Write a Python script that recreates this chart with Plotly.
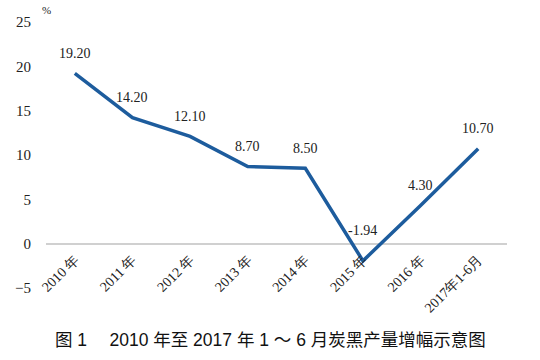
import plotly.graph_objects as go

categories = ["2010年", "2011年", "2012年", "2013年", "2014年", "2015年", "2016年", "2017年1-6月"]
tick_labels = ["2010 年", "2011 年", "2012 年", "2013 年", "2014 年", "2015 年", "2016 年", "2017年1-6月"]
values = [19.20, 14.20, 12.10, 8.70, 8.50, -1.94, 4.30, 10.70]
value_labels = ["19.20", "14.20", "12.10", "8.70", "8.50", "-1.94", "4.30", "10.70"]
y_ticks = [-5, 0, 5, 10, 15, 20, 25]
y_min, y_max = -5, 25

serif = "Liberation Serif"

fig = go.Figure()
fig.add_trace(go.Scatter(
    x=categories, y=values, mode="lines",
    line=dict(color="#1d5c9d", width=3.5),
    hoverinfo="skip", showlegend=False,
))

for c, v, t in zip(categories, values, value_labels):
    fig.add_annotation(x=c, y=v, text=t, showarrow=False,
                       yshift=30 if v < 0 else 20,
                       font=dict(family=serif, size=14, color="#222"))

fig.add_annotation(xref="paper", yref="paper", x=0.0, y=1.0, text="%",
                   showarrow=False, xanchor="center", yanchor="bottom", yshift=4,
                   font=dict(family=serif, size=11, color="#222"))

fig.add_annotation(xref="paper", yref="paper", x=0.486, y=0, yshift=-40,
                   text="图 1\u3000 2010 年至 2017 年 1 ～ 6 月炭黑产量增幅示意图",
                   showarrow=False, xanchor="center", yanchor="top",
                   font=dict(family="Liberation Sans, Noto Sans CJK SC", size=17.5, color="#111"))

fig.update_layout(
    width=540, height=360,
    font=dict(family=serif),
    margin=dict(l=46, r=33, t=22, b=72),
    paper_bgcolor="white", plot_bgcolor="white",
    xaxis=dict(type="category", categoryorder="array", categoryarray=categories,
               tickvals=categories, ticktext=tick_labels, tickangle=-45,
               range=[-0.5, len(categories) - 0.5],
               anchor="free", position=(0 - y_min) / (y_max - y_min),
               showgrid=False, zeroline=False, showline=False, ticks="",
               ticklabelstandoff=4, automargin=False,
               tickfont=dict(family=serif, size=14, color="#222")),
    yaxis=dict(range=[y_min, y_max], tickvals=y_ticks, showgrid=False,
               zeroline=True, zerolinecolor="#d0d0d0", zerolinewidth=2,
               showline=False, ticks="", ticklabelstandoff=14, automargin=False,
               tickfont=dict(family=serif, size=15, color="#222")),
)

fig.write_html("out.html", config={"displayModeBar": False},
               post_script="document.body.style.margin='0';")
